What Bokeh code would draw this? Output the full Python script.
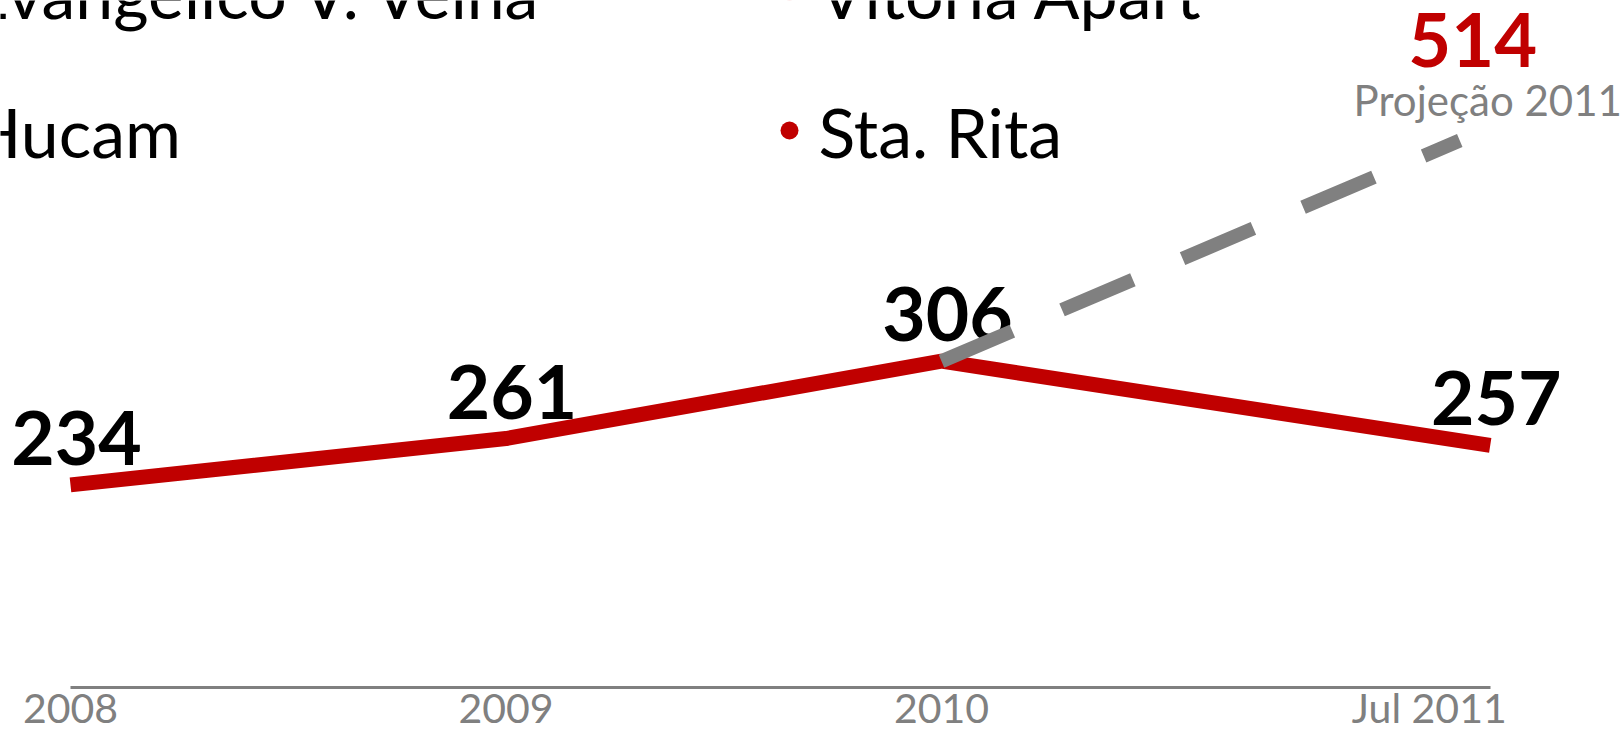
from bokeh.plotting import figure
from bokeh.models import Range1d, FixedTicker
from bokeh.core.properties import value
from bokeh.embed import file_html
from bokeh.resources import INLINE

# ---------------- data ----------------
years = [2008, 2009, 2010, 2011.26]
sta_rita = [234, 261, 306, 257]
value_labels = [str(v) for v in sta_rita]

proj_years = [2010, 2011.19]
proj_values = [306, 514]
proj_label = "514"
proj_caption = "Projeção 2011"

tick_positions = [2008, 2009, 2010, 2011.12]
tick_labels = ["2008", "2009", "2010", "Jul 2011"]

legend_names = ["Evangélico V. Velha", "Hucam", "Vitória Apart", "Sta. Rita"]
legend_colors = ["#A6A6A6", "#595959", "#F4B6B6", "#C00000"]

# ---------------- layout / style ----------------
RED = "#C00000"
GRAY = "#808080"
FONT = value("Lato")
W, H = 1622, 734
FRAME_H = 687

p = figure(width=W, height=H,
           x_range=Range1d(2007.8393, 2011.5637),
           y_range=Range1d(116.1, 515.9),
           output_backend="svg", toolbar_location=None,
           y_axis_location=None, min_border=0, min_border_bottom=H - FRAME_H)
p.extra_y_ranges = {"proj": Range1d(-1.5, 646.0), "px": Range1d(FRAME_H, 0)}
p.extra_x_ranges = {"px": Range1d(0, W)}
p.grid.visible = False
p.outline_line_color = None
p.background_fill_color = "white"
p.border_fill_color = "white"

# legend (two columns, two rows), partly outside the canvas as in the picture
col_x = [-31, 818]
row_y = [-8, 131]
lx, ly, bx, by = [], [], [], []
for i, name in enumerate(legend_names):
    c, r = divmod(i, 2)
    lx.append(col_x[c]); ly.append(row_y[r])
    bx.append(col_x[c] - 29); by.append(row_y[r] - 1)
p.text(x=lx, y=ly, text=legend_names, x_range_name="px", y_range_name="px",
       text_font=FONT, text_font_size="68px", text_color="black",
       text_align="left", text_baseline="alphabetic")
p.scatter(x=bx, y=by, size=18, fill_color=legend_colors, line_color=None,
          x_range_name="px", y_range_name="px")

# main series
p.line(years, sta_rita, line_color=RED, line_width=15)
p.text(x=years, y=sta_rita, text=value_labels, text_font=FONT,
       text_font_style="bold", text_font_size="75px", text_color="black",
       text_align="center", text_baseline="alphabetic", x_offset=6, y_offset=-47)

# projection
p.line(proj_years, proj_values, y_range_name="proj", line_color=GRAY,
       line_width=14, line_dash="77 54")
p.text(x=[proj_years[-1]], y=[proj_values[-1]], text=[proj_label], y_range_name="proj",
       text_font=FONT, text_font_style="bold", text_font_size="74px", text_color=RED,
       text_align="center", text_baseline="alphabetic", x_offset=13, y_offset=-101)
p.text(x=[proj_years[-1]], y=[proj_values[-1]], text=[proj_caption], y_range_name="proj",
       text_font=FONT, text_font_size="42px", text_color=GRAY,
       text_align="center", text_baseline="alphabetic", x_offset=28, y_offset=-41)

# x axis
ax = p.xaxis[0]
ax.ticker = FixedTicker(ticks=tick_positions)
ax.major_label_overrides = dict(zip(tick_positions, tick_labels))
ax.bounds = (years[0], years[-1])
ax.axis_line_color = GRAY
ax.axis_line_width = 3
ax.major_tick_line_color = None
ax.minor_tick_line_color = None
ax.major_tick_out = 0
ax.major_tick_in = 0
ax.major_label_standoff = -5
ax.major_label_text_line_height = 0.9
ax.major_label_text_font = "Lato"
ax.major_label_text_font_size = "41px"
ax.major_label_text_color = GRAY

open("out.html", "w").write(file_html(p, INLINE))
